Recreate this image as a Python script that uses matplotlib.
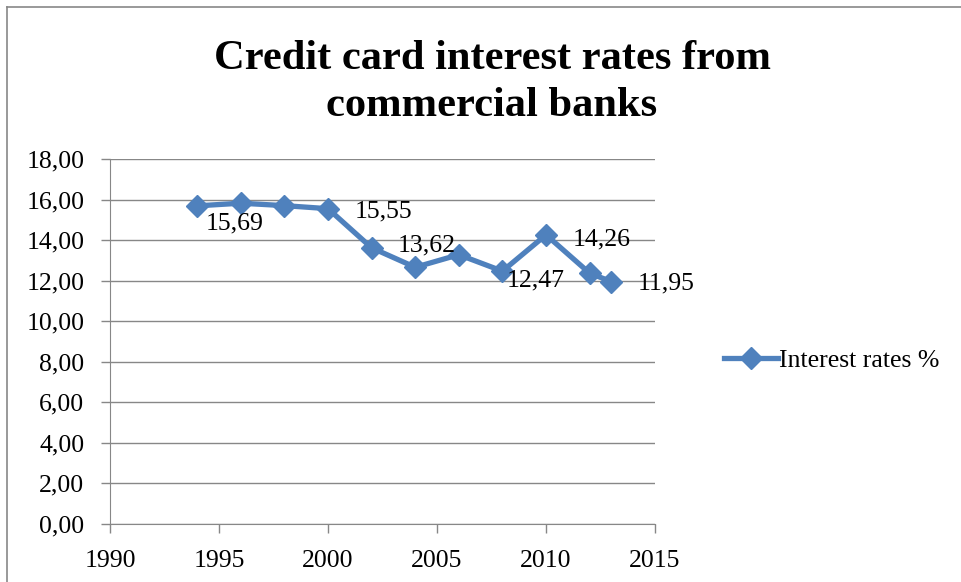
import matplotlib.pyplot as plt
from matplotlib.lines import Line2D
from matplotlib.ticker import FuncFormatter

# Data
years = [1994, 1996, 1998, 2000, 2002, 2004, 2006, 2008, 2010, 2012, 2013]
rates = [15.69, 15.82, 15.70, 15.55, 13.62, 12.66, 13.28, 12.47, 14.26, 12.37, 11.95]
labelled = [1994, 2000, 2002, 2008, 2010, 2013]
series_name = "Interest rates %"
title = "Credit card interest rates from\ncommercial banks"

blue = "#4F81BD"
grey = "#878787"
plt.rcParams['font.family'] = ['Liberation Serif', 'DejaVu Serif']

fig = plt.figure(figsize=(9.61, 5.82), dpi=100)
ax = fig.add_axes([0.1145, 0.0997, 0.5671, 0.6271])

ax.plot(years, rates, color=blue, linewidth=3.8, marker='D', markersize=11,
        label=series_name, zorder=3)

# data labels on selected points (offsets in points)
offsets = {1994: (6, -13), 2000: (19, -2), 2002: (19, 2),
           2008: (3, -7), 2010: (19, -3), 2013: (19, -1)}
for x, y in zip(years, rates):
    if x in labelled:
        dx, dy = offsets[x]
        ax.annotate(f"{y:.2f}".replace('.', ','), (x, y), xytext=(dx, dy),
                    textcoords='offset points', fontsize=18.5, va='center',
                    ha='left', zorder=4)

ax.set_xlim(1990, 2015)
ax.set_ylim(0, 18)
ax.set_xticks(range(1990, 2016, 5))
ax.set_yticks(range(0, 19, 2))
ax.yaxis.set_major_formatter(FuncFormatter(lambda v, p: f"{v:.2f}".replace('.', ',')))
ax.grid(axis='y', color=grey, linewidth=1)
ax.set_axisbelow(True)
for s in ['top', 'right']:
    ax.spines[s].set_visible(False)
for s in ['left', 'bottom']:
    ax.spines[s].set_color(grey)
ax.tick_params(axis='both', colors=grey, labelcolor='black', labelsize=18.5,
               length=6.5, width=1)
ax.tick_params(axis='y', pad=12)
ax.tick_params(axis='x', pad=12)

fig.text(0.512, 0.858, title, ha='center', va='center', fontsize=30.6,
         fontweight='bold', linespacing=1.3)

handle = Line2D([], [], color=blue, linewidth=3.8, marker='D', markersize=11)
fig.legend([handle], [series_name], loc='center left',
           bbox_to_anchor=(0.729, 0.38), frameon=False, fontsize=18.5,
           handlelength=2.1, handletextpad=0.05)

# chart frame (left and top edges visible)
fig.add_artist(Line2D([0.0075, 0.0075], [0, 0.988], color=grey, linewidth=1.2,
                      transform=fig.transFigure))
fig.add_artist(Line2D([0.0075, 1], [0.988, 0.988], color=grey, linewidth=1.2,
                      transform=fig.transFigure))

fig.savefig("out.png", dpi=100)
